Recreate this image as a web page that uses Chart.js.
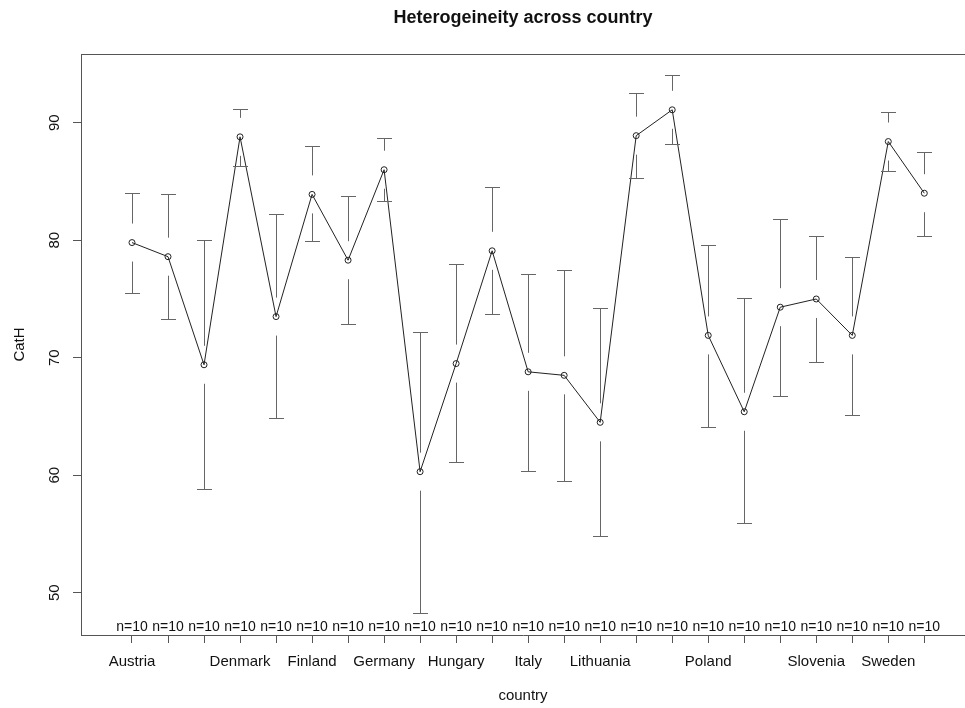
<!DOCTYPE html>
<html>
<head>
<meta charset="utf-8">
<script src="https://cdn.jsdelivr.net/npm/chart.js@4.4.1/dist/chart.umd.min.js"></script>
<style>
  body { margin: 0; background: #fff; }
</style>
</head>
<body>
<canvas id="myChart" width="965" height="708"></canvas>
<script>
const countries = ['Austria', 'Belgium', 'Czech Republic', 'Denmark', 'Estonia', 'Finland', 'France', 'Germany',
  'Greece', 'Hungary', 'Ireland', 'Italy', 'Latvia', 'Lithuania', 'Luxembourg', 'Netherlands', 'Poland',
  'Portugal', 'Slovakia', 'Slovenia', 'Spain', 'Sweden', 'United Kingdom'];
// R drops the labels that would overlap, so only these show
const tickLabels = ['Austria', '', '', 'Denmark', '', 'Finland', '', 'Germany', '', 'Hungary', '', 'Italy', '',
  'Lithuania', '', '', 'Poland', '', '', 'Slovenia', '', 'Sweden', ''];
const means = [79.8, 78.6, 69.4, 88.8, 73.5, 83.9, 78.3, 86.0, 60.3, 69.5, 79.1, 68.8, 68.5, 64.5, 88.9, 91.1,
  71.9, 65.4, 74.3, 75.0, 71.9, 88.4, 84.0];
const upper = [84.0, 83.9, 80.0, 91.2, 82.2, 88.0, 83.8, 88.7, 72.2, 78.0, 84.5, 77.1, 77.5, 74.2, 92.5, 94.1,
  79.6, 75.1, 81.8, 80.4, 78.6, 90.9, 87.5];
const lower = [75.5, 73.3, 58.8, 86.3, 64.9, 79.9, 72.9, 83.3, 48.3, 61.1, 73.7, 60.4, 59.5, 54.8, 85.3, 88.2,
  64.1, 55.9, 66.7, 69.6, 65.1, 85.9, 80.4];
const counts = [10, 10, 10, 10, 10, 10, 10, 10, 10, 10, 10, 10, 10, 10, 10, 10, 10, 10, 10, 10, 10, 10, 10];
const yTicks = [50, 60, 70, 80, 90];

const axisColor = '#555';
const font = 'Liberation Sans, Arial, sans-serif';

// plotmeans style bars: stems stop short of the point, caps at the ends
const errorBars = {
  id: 'errorBars',
  afterDatasetsDraw(chart) {
    const { ctx, scales: { x, y } } = chart;
    const gap = 19;
    ctx.save();
    ctx.strokeStyle = '#666';
    ctx.lineWidth = 1;
    means.forEach((m, i) => {
      const px = Math.round(x.getPixelForValue(i)) + 0.5;
      const pm = y.getPixelForValue(m);
      [upper[i], lower[i]].forEach(v => {
        const pv = Math.round(y.getPixelForValue(v)) + 0.5;
        const dir = Math.sign(pv - pm);
        ctx.beginPath();
        if (Math.abs(pv - pm) > gap) {
          ctx.moveTo(px, pv);
          ctx.lineTo(px, pm + dir * gap);
        }
        ctx.moveTo(px - 7.5, pv);
        ctx.lineTo(px + 7.5, pv);
        ctx.stroke();
      });
    });
    ctx.restore();
  }
};

const frame = {
  id: 'frame',
  beforeDraw(chart) {
    const ctx = chart.ctx;
    ctx.save();
    ctx.fillStyle = '#fff';
    ctx.fillRect(0, 0, chart.width, chart.height);
    ctx.restore();
  },
  afterDraw(chart) {
    const { ctx, chartArea, scales: { x, y } } = chart;
    ctx.save();
    // top of the box (right side is off the picture)
    ctx.strokeStyle = axisColor;
    ctx.lineWidth = 1;
    ctx.beginPath();
    ctx.moveTo(chartArea.left, chartArea.top + 0.5);
    ctx.lineTo(chartArea.right, chartArea.top + 0.5);
    ctx.stroke();

    // y tick labels, turned like R does
    ctx.fillStyle = '#111';
    ctx.font = '15px ' + font;
    ctx.textAlign = 'center';
    ctx.textBaseline = 'middle';
    y.ticks.forEach(t => {
      ctx.save();
      ctx.translate(55, y.getPixelForValue(t.value));
      ctx.rotate(-Math.PI / 2);
      ctx.fillText(String(t.value), 0, 0);
      ctx.restore();
    });

    // counts along the bottom
    ctx.font = '14px ' + font;
    counts.forEach((n, i) => {
      ctx.fillText('n=' + n, x.getPixelForValue(i), chartArea.bottom - 8);
    });
    ctx.restore();
  }
};

const data = {
  datasets: [{
    label: 'CatH',
    data: means.map((m, i) => ({ x: i, y: m })),
    borderColor: '#222',
    borderWidth: 1,
    pointRadius: 3,
    pointBorderWidth: 1,
    pointBorderColor: '#222',
    pointBackgroundColor: 'rgba(0,0,0,0)',
    tension: 0
  }]
};

const config = {
  type: 'line',
  data,
  options: {
    responsive: false,
    animation: false,
    layout: { autoPadding: false, padding: { left: 0, right: 0, top: 0, bottom: 0 } },
    plugins: {
      legend: { display: false },
      tooltip: {
        callbacks: {
          title: items => countries[items[0].parsed.x]
        }
      },
      title: {
        display: true,
        text: 'Heterogeineity across country',
        color: '#111',
        fullSize: false,
        font: { family: font, size: 18, weight: 'bold', lineHeight: 1.2 },
        padding: { top: 7, bottom: 25.4 }
      }
    },
    scales: {
      x: {
        type: 'linear',
        min: -1.416,
        max: 23.13,
        afterBuildTicks: scale => {
          scale.ticks = tickLabels.map((l, i) => ({ value: i }));
        },
        afterFit: scale => { scale.height = 73; },
        grid: { display: true, drawOnChartArea: false, drawTicks: true, tickLength: 8, color: axisColor },
        border: { display: true, color: axisColor },
        ticks: {
          autoSkip: false,
          maxRotation: 0,
          minRotation: 0,
          padding: 10,
          color: '#111',
          font: { family: font, size: 15 },
          callback: value => tickLabels[value] || ''
        },
        title: {
          display: true,
          text: 'country',
          color: '#111',
          font: { family: font, size: 15, lineHeight: 1.2 },
          padding: { top: 0, bottom: 3 }
        }
      },
      y: {
        min: 46.4,
        max: 95.85,
        afterBuildTicks: scale => {
          scale.ticks = yTicks.map(v => ({ value: v }));
        },
        afterFit: scale => { scale.width = 81; },
        grid: { display: true, drawOnChartArea: false, drawTicks: true, tickLength: 8, color: axisColor },
        border: { display: true, color: axisColor },
        ticks: { display: false },
        title: {
          display: true,
          text: 'CatH',
          color: '#111',
          font: { family: font, size: 15, lineHeight: 1.2 },
          padding: { top: 10.5, bottom: 0 }
        }
      }
    }
  },
  plugins: [frame, errorBars]
};

const myChart = new Chart(
  document.getElementById('myChart'),
  config
);
</script>
</body>
</html>
